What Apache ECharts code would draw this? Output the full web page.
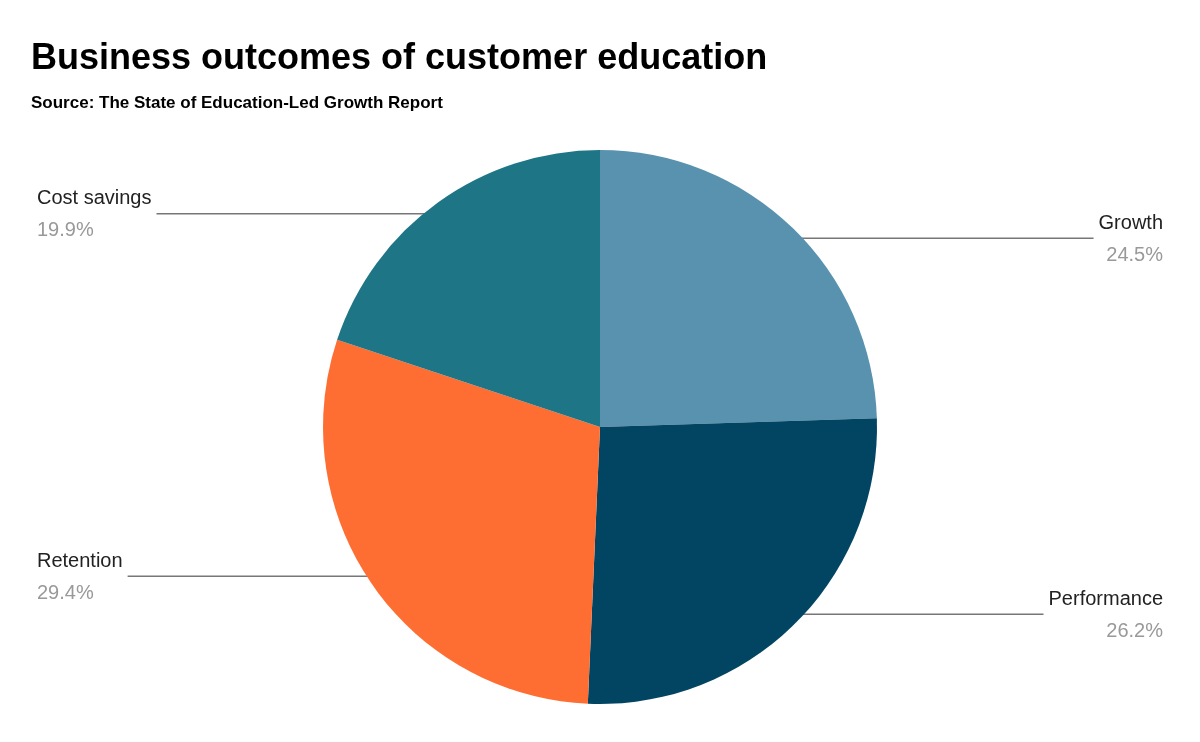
<!DOCTYPE html><html><head><meta charset="utf-8"><script src="https://cdn.jsdelivr.net/npm/echarts@6/dist/echarts.min.js"></script>
<style>html,body{margin:0;padding:0;background:#fff}#c{width:1200px;height:742px}</style></head><body><div id="c"></div><script>
const categories=['Growth','Performance','Retention','Cost savings'];
const values=[24.5,26.2,29.4,19.9];
const colors=['#5892af','#024562','#fe6e33','#1d7585'];
const data=categories.map((n,i)=>({name:n,value:values[i],itemStyle:{color:colors[i]}}));
const chart=echarts.init(document.getElementById('c'));
chart.setOption({
 title:{text:'Business outcomes of customer education',subtext:'Source: The State of Education-Led Growth Report',left:26,top:36,itemGap:18,
  textStyle:{fontFamily:'Liberation Sans',fontSize:36,fontWeight:'bold',color:'#000'},
  subtextStyle:{fontFamily:'Liberation Sans',fontSize:17,fontWeight:'bold',color:'#000'}},
 series:[
 {type:'pie',center:[600,427],radius:277,startAngle:90,clockwise:true,data:data,label:{show:false},labelLine:{show:false},silent:true,itemStyle:{borderWidth:0}},
 {type:'pie',center:[600,427],radius:263,startAngle:90,clockwise:true,silent:true,
  data:categories.map((n,i)=>({name:n,value:values[i],itemStyle:{color:'rgba(0,0,0,0)'}})),
  label:{show:true,alignTo:'edge',edgeDistance:37,formatter:p=>'{n|'+p.name+'}\n{v|'+p.value.toFixed(1)+'%}',
   rich:{n:{fontFamily:'Liberation Sans',fontSize:20,color:'#222',lineHeight:34},v:{fontFamily:'Liberation Sans',fontSize:20,color:'#999',lineHeight:30}}},
  labelLine:{show:true,length:0,length2:10,lineStyle:{color:'#777',width:1.5}}}
 ]
});
</script></body></html>
